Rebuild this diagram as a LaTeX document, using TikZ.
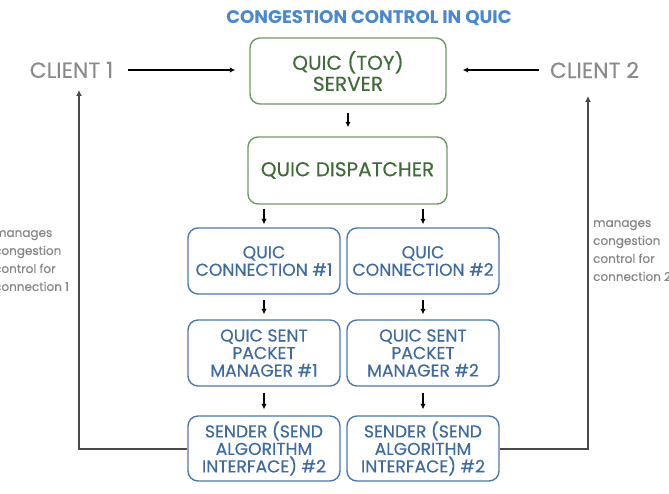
\documentclass[tikz,border=0pt]{standalone}
\usepackage{fontspec}
\setmainfont{Poppins}[UprightFeatures={FakeBold=0.35}]
\usetikzlibrary{arrows.meta}
\definecolor{titleblue}{HTML}{4A88CC}
\definecolor{gborder}{HTML}{6E9A62}
\definecolor{gtext}{HTML}{3F6B36}
\definecolor{bborder}{HTML}{4C78AA}
\definecolor{btext}{HTML}{3E6A9E}
\definecolor{cgray}{HTML}{8A8A8A}
\definecolor{agray}{HTML}{858585}
\definecolor{fbline}{HTML}{4A4A4A}
\tikzset{
  gbox/.style={draw=gborder, line width=1.4pt, rounded corners=10pt, text=gtext, align=center, font=\fontsize{20}{21}\selectfont, inner sep=0pt},
  bbox/.style={draw=bborder, line width=1.4pt, rounded corners=10pt, text=btext, align=center, font=\fontsize{17.2}{17.5}\selectfont, minimum width=152pt, minimum height=66pt, inner sep=0pt},
  client/.style={text=cgray, font=\fontsize{22}{23}\selectfont, inner sep=0pt},
  note/.style={text=agray, align=left, font=\fontsize{12}{18}\selectfont, inner sep=0pt},
  arr/.style={-{Latex[length=5.5pt,width=5.5pt]}, line width=1.1pt, black},
  fb/.style={-{Latex[length=6pt,width=6pt]}, line width=2pt, fbline},
}
\begin{document}
\begin{tikzpicture}[x=1pt,y=-1pt]
\useasboundingbox (0,0) rectangle (669,494);
\node[text=titleblue, font=\bfseries\fontsize{18.2}{19}\selectfont, inner sep=0pt] (title) at (369,18) {CONGESTION CONTROL IN QUIC};
\node[gbox, minimum width=196pt, minimum height=66pt] (server) at (348,71) {QUIC (TOY)\\SERVER};
\node[gbox, minimum width=199pt, minimum height=67pt] (disp) at (347.5,170.5) {QUIC DISPATCHER};
\node[bbox] (conn1) at (264,261) {QUIC\\CONNECTION \#1};
\node[bbox] (conn2) at (423,261) {QUIC\\CONNECTION \#2};
\node[bbox] (spm1) at (264,353) {QUIC SENT\\PACKET\\MANAGER \#1};
\node[bbox] (spm2) at (423,353) {QUIC SENT\\PACKET\\MANAGER \#2};
\node[bbox, minimum height=65pt] (snd1) at (264,448.5) {SENDER (SEND\\ALGORITHM\\INTERFACE) \#2};
\node[bbox, minimum height=65pt] (snd2) at (423,448.5) {SENDER (SEND\\ALGORITHM\\INTERFACE) \#2};
\node[client] (c1) at (71.5,70) {CLIENT 1};
\node[client] (c2) at (594.5,70) {CLIENT 2};
\node[note, anchor=north west] (n1) at (-6,230) {manages\\congestion\\control for\\connection 1};
\node[note, anchor=north west] (n2) at (593,220) {manages\\congestion\\control for\\connection 2};
\coordinate (c1in) at (79,90);
\coordinate (c2in) at (588,96);
% arrows
\draw[arr, shorten <=15pt, shorten >=14pt] (c1.east) -- (c1.east -| server.west);
\draw[arr, shorten <=11pt, shorten >=16pt] (c2.west) -- (c2.west -| server.east);
\draw[arr, shorten <=8pt, shorten >=9pt] (server.south) -- (server.south |- disp.north);
\draw[arr, shorten <=4pt, shorten >=3pt] (disp.south -| conn1.north) -- (conn1.north);
\draw[arr, shorten <=4pt, shorten >=3pt] (disp.south -| conn2.north) -- (conn2.north);
\draw[arr, shorten <=5pt, shorten >=5pt] (conn1.south) -- (spm1.north);
\draw[arr, shorten <=5pt, shorten >=5pt] (conn2.south) -- (spm2.north);
\draw[arr, shorten <=6pt, shorten >=6pt] (spm1.south) -- (snd1.north);
\draw[arr, shorten <=6pt, shorten >=6pt] (spm2.south) -- (snd2.north);
\draw[fb] (snd1.west) -| (c1in);
\draw[fb] (snd2.east) -| (c2in);
\end{tikzpicture}
\end{document}
